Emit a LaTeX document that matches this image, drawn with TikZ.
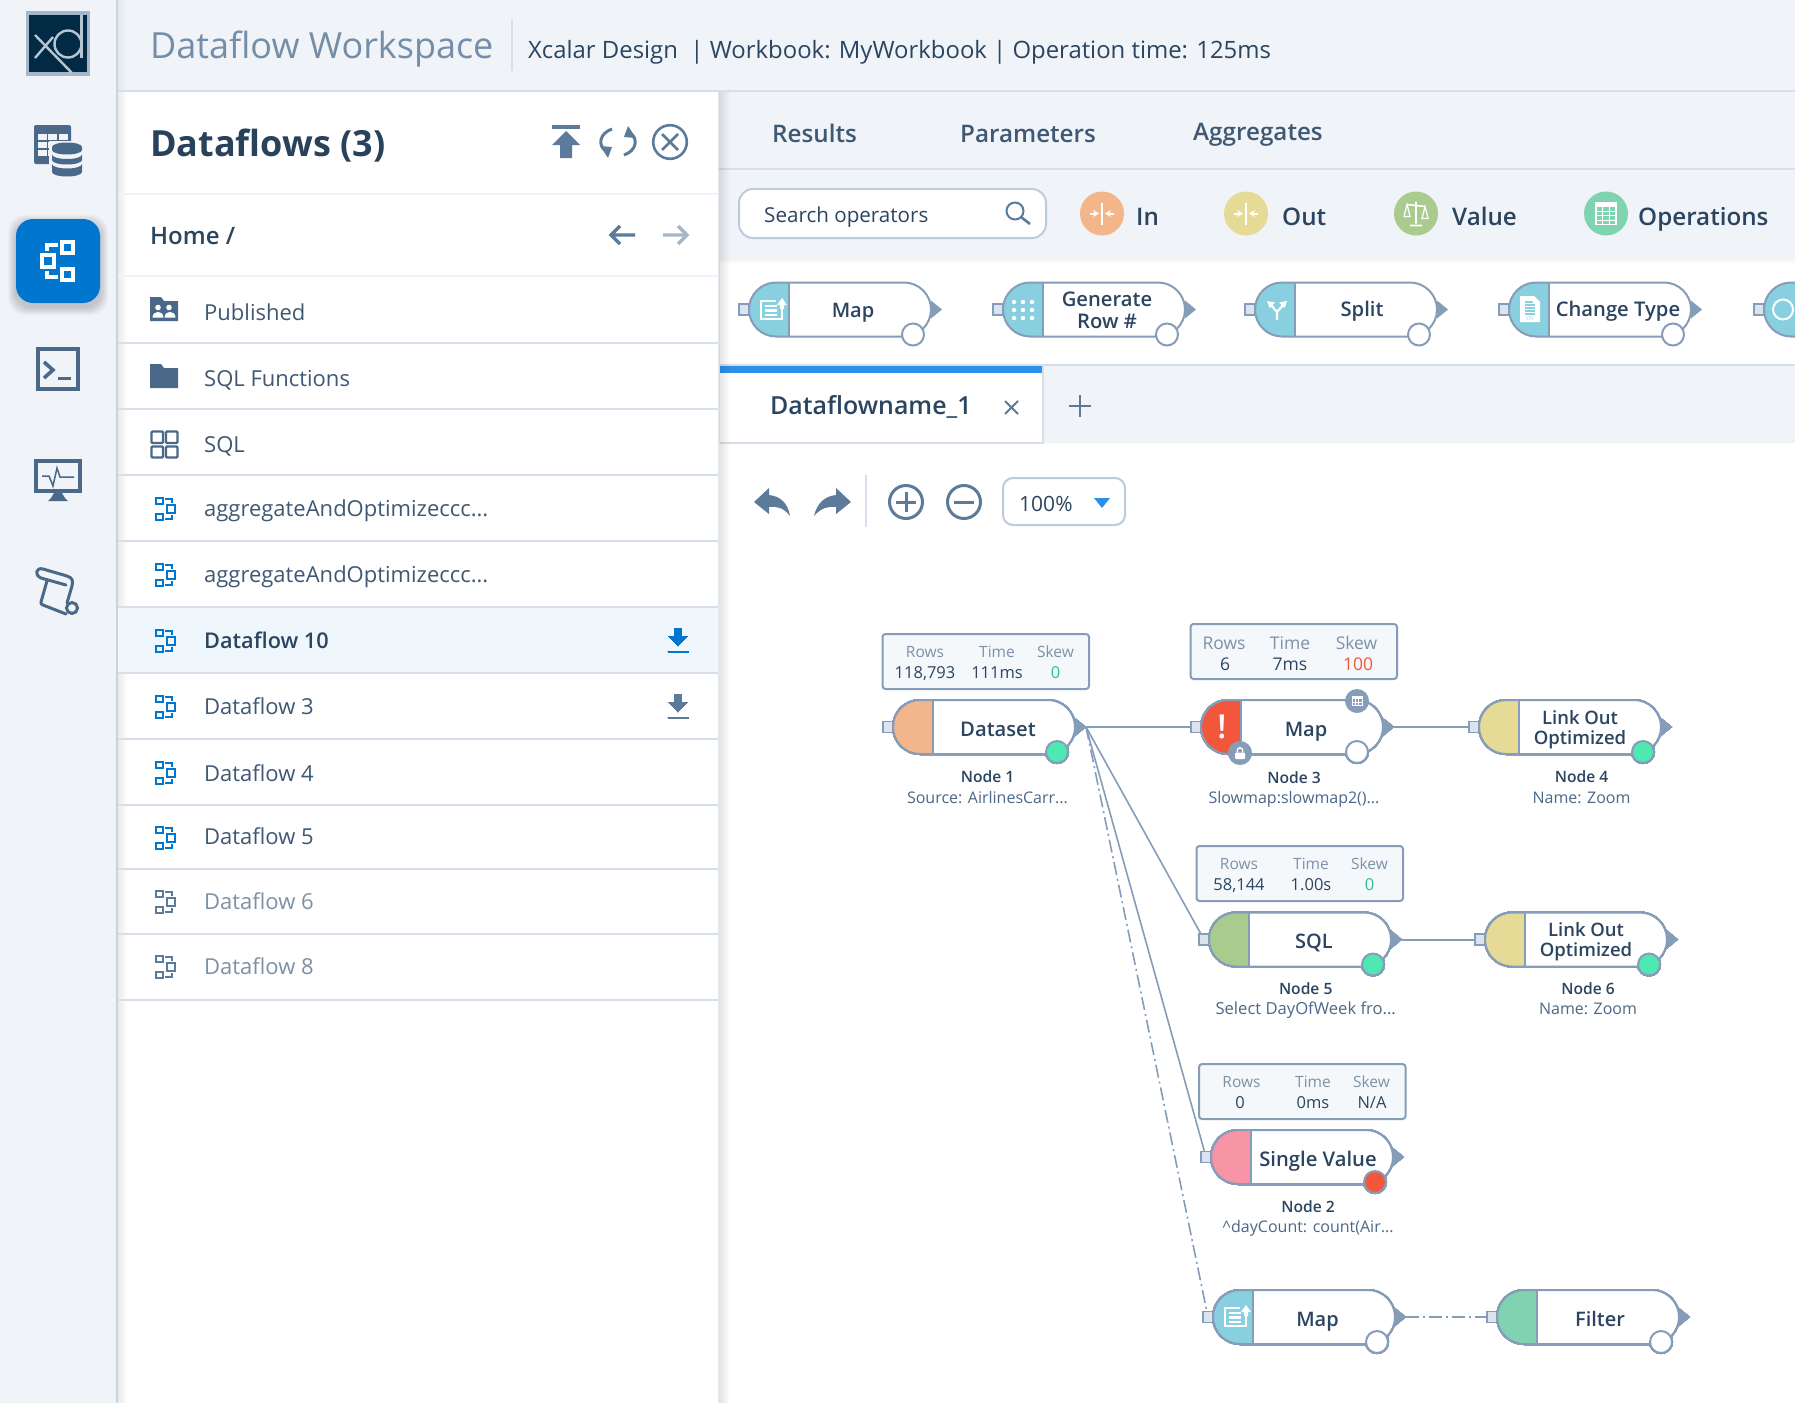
\documentclass[tikz,border=0pt]{standalone}
\usepackage{fontspec}
\setmainfont{Open Sans}
\newfontfamily\osm{Open Sans Semibold}
\newfontfamily\oss{Open Sans Semibold}
\usetikzlibrary{arrows.meta}
\definecolor{bgband}{HTML}{F0F3F8}
\definecolor{ink}{HTML}{2B4560}
\definecolor{inklight}{HTML}{3F5873}
\definecolor{inkmute}{HTML}{7D91A6}
\definecolor{iconc}{HTML}{4A6888}
\definecolor{iconb}{HTML}{5C7A99}
\definecolor{wire}{HTML}{859DB8}
\definecolor{sepc}{HTML}{D6DFEA}
\definecolor{railedge}{HTML}{C8D3E0}
\definecolor{brand}{HTML}{0076CE}
\definecolor{tabblue}{HTML}{2E8FEA}
\definecolor{capor}{HTML}{F3B58A}
\definecolor{capye}{HTML}{E6DB96}
\definecolor{capgr}{HTML}{A9CC8E}
\definecolor{cappk}{HTML}{F794A6}
\definecolor{capbl}{HTML}{88D0E0}
\definecolor{capte}{HTML}{80D3B0}
\definecolor{capre}{HTML}{F2563B}
\definecolor{dotgr}{HTML}{4EE9B1}
\definecolor{statbg}{HTML}{F5F8FB}
\definecolor{portc}{HTML}{DCE3EE}
\definecolor{skewg}{HTML}{2FC08E}
\definecolor{logod}{HTML}{022A45}
\definecolor{logol}{HTML}{B5C6D4}
\tikzset{
 txt/.style={font=\fontsize{#1}{#1}\selectfont,text height={0.72*#1pt},text depth=0pt,inner sep=0pt},
 mtxt/.style={font=\fontsize{#1}{#1}\osm,text height={0.72*#1pt},text depth=0pt,inner sep=0pt},
 stxt/.style={font=\fontsize{#1}{#1}\oss,text height={0.72*#1pt},text depth=0pt,inner sep=0pt},
 ctr/.style={font=\fontsize{#1}{#1}\osm,align=center,inner sep=0pt,text=ink},
 pillline/.style={draw=wire,line width=2pt},
 portbox/.style={draw=wire,fill=portc,line width=1.6pt,minimum width=10pt,minimum height=11pt,inner sep=0pt},
 outdot/.style={circle,draw=wire,line width=2pt,minimum size=22pt,inner sep=0pt},
 statbox/.style={draw=wire,fill=statbg,line width=2pt,rounded corners=3pt},
 wireline/.style={draw=wire,line width=2pt},
 flowdash/.style={draw=wire,line width=1.6pt,dash pattern=on 13pt off 4pt on 2pt off 4pt},
 sepline/.style={draw=sepc,line width=2pt},
}
\def\dotx{164}
\newcommand{\flownode}[5]{%
\begin{scope}[shift={(#2,#3)}]
 \fill[white,rounded corners=27pt] (0,0) rectangle (182,54);
 \fill[#4] (40,0) -- (27,0) arc[start angle=90,end angle=270,radius=27pt] -- (40,54) -- cycle;
 \draw[pillline,rounded corners=27pt] (0,0) rectangle (182,54);
 \draw[pillline] (40,0) -- (40,54);
 \node[portbox] (#1-in) at (-5,27) {};
 \fill[wire] (182,18) -- (193,27) -- (182,36) -- cycle;
 \coordinate (#1-out) at (193,27);
 \node[outdot,fill=#5] (#1-dot) at (\dotx,52) {};
\end{scope}}
\newcommand{\statpanel}[2]{\draw[statbox] (#1,#2) rectangle ++(206.5,55);}
\newcommand{\flowicon}[5]{% x y scale color lw
\begin{scope}[shift={(#1,#2)},scale=#3]
 \draw[#4,line width=#5] (-15,-6) rectangle (-3,6);
 \draw[#4,line width=#5] (5,-19) rectangle (16,-8);
 \draw[#4,line width=#5] (5,8) rectangle (16,19);
 \draw[#4,line width=#5] (-10,-10) -- (-10,-16) -- (1,-16);
 \draw[#4,line width=#5] (-10,10) -- (-10,16) -- (1,16);
\end{scope}}
\newcommand{\dloadicon}[3]{% x y color
\begin{scope}[shift={(#1,#2)}]
 \fill[#3] (-3.5,-13) -- (3.5,-13) -- (3.5,-5) -- (9.5,-5) -- (0,5) -- (-9.5,-5) -- (-3.5,-5) -- cycle;
 \draw[#3,line width=2.4pt] (-10.5,11) -- (10.5,11);
\end{scope}}
\newcommand{\mapicon}[2]{%
\begin{scope}[shift={(#1,#2)}]
 \draw[white,line width=2.4pt] (5,-9) -- (-10,-9) -- (-10,9) -- (11,9) -- (11,-2);
 \draw[white,line width=2.4pt] (-6,-4) -- (6,-4) (-6,0.5) -- (6,0.5) (-6,5) -- (6,5);
 \fill[white] (11,-12) -- (16,-5) -- (13,-5) -- (13,-1) -- (9,-1) -- (9,-5) -- (6,-5) -- cycle;
\end{scope}}
\newcommand{\inouticon}[2]{%
\begin{scope}[shift={(#1,#2)}]
 \draw[white,line width=2pt] (0,-11) -- (0,11);
 \draw[white,line width=2pt,-{Stealth[length=6pt,width=7pt]}] (-12,0) -- (-3,0);
 \draw[white,line width=2pt,-{Stealth[length=6pt,width=7pt]}] (12,0) -- (3,0);
\end{scope}}
\begin{document}
\begin{tikzpicture}[x=1pt,y=-1pt]
\useasboundingbox (0,0) rectangle (1795,1403);
\fill[bgband] (0,0) rectangle (1795,1403);
% canvas
\fill[white] (118,443) rectangle (1795,1403);
\fill[white] (720,258) rectangle (1795,365);
\foreach \i [evaluate=\i as \o using 0.05*(1-\i/6)] in {0,...,5}
  \fill[black,opacity=\o] (720,258+\i) rectangle (1795,259+\i);
% header
\foreach \i [evaluate=\i as \o using 0.07*(1-\i/8)] in {0,...,7}
  \fill[iconc,opacity=\o] (118+\i,0) rectangle (119+\i,92);
\draw[sepline] (118,90.5) -- (1699,90.5);
\draw[sepline] (1699,91) -- (1795,91);
\node[txt=36,anchor=west,text=iconb!85!white] (title) at (150,46) {Dataflow Workspace};
\draw[sepline,line width=2pt] (512,19) -- (512,71);
\node[txt=23.9,anchor=west,text=ink] (crumb) at (528,50) {Xcalar Design \ | Workbook: MyWorkbook | Operation time: 125ms};
% tabs row
\node[mtxt=24.2,anchor=west,text=inklight] (results) at (772,134) {Results};
\node[mtxt=24.2,anchor=west,text=inklight] (params) at (960,134) {Parameters};
\node[mtxt=24.2,anchor=west,text=inklight] (aggr) at (1193,132) {Aggregates};
\draw[sepline] (718,168.5) -- (1795,168.5);
% search and legend
\draw[fill=white,draw=sepc!80!iconb,line width=2pt,rounded corners=14pt] (739,189) rectangle (1046,238);
\node[txt=20.6,anchor=west,text=ink] (search) at (764,215.5) {Search operators};
\draw[iconb,line width=2pt] (1015,211) circle (8.5pt);
\draw[iconb,line width=2.6pt] (1021,217) -- (1030,224);
\fill[capor] (1102,213.5) circle (22pt); \inouticon{1102}{213.5}
\node[mtxt=24.2,anchor=west,text=ink] (lin) at (1136,216.5) {In};
\fill[capye] (1246,213.5) circle (22pt); \inouticon{1246}{213.5}
\node[mtxt=24.2,anchor=west,text=ink] (lout) at (1282,216.5) {Out};
\fill[capgr] (1416,213.5) circle (22pt);
\begin{scope}[shift={(1416,213.5)}]
 \draw[white,line width=1.6pt] (0,-12) -- (0,10) (-6,12) -- (6,12) (-9,-9) -- (9,-7);
 \draw[white,line width=1.2pt] (-9,-9) -- (-12,3) -- (-6,3) -- cycle (9,-7) -- (6,5) -- (12,5) -- cycle;
\end{scope}
\node[mtxt=24.2,anchor=west,text=ink] (lval) at (1452,216.5) {Value};
\fill[capte] (1606,213.5) circle (22pt);
\begin{scope}[shift={(1606,213.5)}]
 \draw[white,line width=1.4pt] (-10,-11) rectangle (10,11);
 \fill[white] (-10,-11) rectangle (10,-7);
 \draw[white,line width=.8pt] (-3.3,-7) -- (-3.3,11) (3.3,-7) -- (3.3,11) (-10,-2.5) -- (10,-2.5) (-10,2) -- (10,2) (-10,6.5) -- (10,6.5);
\end{scope}
\node[mtxt=24.2,anchor=west,text=ink] (lops) at (1638,216.5) {Operations};
% palette
\flownode{pmap}{749}{282.5}{capbl}{white}
\flownode{pgen}{1003}{282.5}{capbl}{white}
\flownode{psplit}{1255}{282.5}{capbl}{white}
\flownode{pchange}{1509}{282.5}{capbl}{white}
\mapicon{771}{310}
\foreach \a in {-9,0,9} \foreach \b in {-8,0,8} \fill[white] (1023+\a,310+\b) circle (2.2pt);
\begin{scope}[shift={(1277,311)}]
 \draw[white,line width=2.2pt] (0,9) -- (0,1) -- (-6,-6) (0,1) -- (6,-6);
 \fill[white] (-10,-10) -- (-2,-8.5) -- (-7.5,-3) -- cycle (10,-10) -- (2,-8.5) -- (7.5,-3) -- cycle;
\end{scope}
\begin{scope}[shift={(1530,309)}]
 \fill[white] (-10,-13) -- (4,-13) -- (10,-7) -- (10,13) -- (-10,13) -- cycle;
 \draw[capbl,line width=1.2pt] (-5,-7) -- (3,-7) (-5,-4) -- (5,-4) (-5,-1) -- (5,-1) (-5,2) -- (5,2) (-5,5) -- (5,5);
 \node[font=\fontsize{5}{5}\selectfont,text=capbl,inner sep=0pt] (txtlabel) at (0,10) {TXT};
\end{scope}
\node[mtxt=20,text=ink] (pmapt) at (853,310) {Map};
\node[ctr=22,font=\fontsize{20.2}{22}\osm] (pgent) at (1107,310) {Generate\\Row \#};
\node[mtxt=20.2,text=ink] (psplitt) at (1362,309) {Split};
\node[mtxt=20.2,text=ink] (pchanget) at (1618,309) {Change Type};
% cut off tool at right edge
\begin{scope}
 \clip (1700,270) rectangle (1795,345);
 \fill[capbl] (1800,282.5) -- (1791,282.5) arc[start angle=90,end angle=270,radius=27pt] -- (1800,336.5) -- cycle;
 \draw[pillline] (1800,282.5) -- (1791,282.5) arc[start angle=90,end angle=270,radius=27pt] -- (1800,336.5);
 \node[portbox] (plast-in) at (1759,309.5) {};
 \draw[white,line width=2pt] (1783,309.5) circle (10pt);
\end{scope}
% tab strip
\draw[sepline] (720,365) -- (1795,365);
\fill[white] (720,366) rectangle (1043,443);
\fill[tabblue] (720,366) rectangle (1043,373);
\draw[sepline] (1043,366) -- (1043,443) -- (720,443);
\node[stxt=24.9,anchor=west,text=ink] (tabname) at (770,406) {Dataflowname\_1};
\draw[iconb,line width=2pt] (1005,401) -- (1018,414) (1018,401) -- (1005,414);
\draw[iconb,line width=2.8pt] (1080,395) -- (1080,417) (1069,406) -- (1091,406);
% canvas tools
\fill[iconb] (754,502) -- (769,488) -- (769,495) .. controls (780,496) and (788,503) .. (790,516) .. controls (784,508) and (777,506) .. (769,507) -- (769,514) -- cycle;
\fill[iconb] (851,502) -- (836,488) -- (836,495) .. controls (825,496) and (817,503) .. (814,516) .. controls (821,508) and (828,506) .. (836,507) -- (836,514) -- cycle;
\draw[sepc,line width=2pt] (866,475) -- (866,527);
\draw[iconb,line width=3pt] (906,502) circle (16.5pt);
\draw[iconb,line width=3pt] (896,502) -- (916,502) (906,492) -- (906,512);
\draw[iconb,line width=3pt] (964,502) circle (16.5pt);
\draw[iconb,line width=3pt] (954,502) -- (974,502);
\draw[fill=white,draw=sepc!80!iconb,line width=2pt,rounded corners=10pt] (1003,478) rectangle (1125,525);
\node[txt=21,anchor=west,text=ink] (zoomv) at (1019,504) {100\%};
\fill[tabblue] (1094,498) -- (1110,498) -- (1102,508) -- cycle;
% left rail
\fill[railedge] (116,0) rectangle (118,1403);
\fill[white] (118,92) rectangle (718,1403);
\foreach \i [evaluate=\i as \o using 0.08*(1-\i/9)] in {0,...,8}
  \fill[black,opacity=\o] (118+\i,92) rectangle (119+\i,1403);
\foreach \i [evaluate=\i as \o using 0.12*(1-\i/12)] in {0,...,11}
  \fill[black,opacity=\o] (718+\i,92) rectangle (719+\i,1403);
\draw[sepc!70!white,line width=1pt] (718,92) -- (718,1403);
% logo
\fill[sepc!60!iconb] (26,11) rectangle (90,76);
\fill[logod] (29,15) rectangle (87,72);
\begin{scope}
 \clip (29,15) rectangle (87,72);
 \draw[logol,line width=2.4pt] (35,35) -- (72,73) (35,58) -- (53,37);
 \draw[logol,line width=2.4pt] (68,44) circle (13.5pt);
 \draw[logol,line width=2.4pt] (81.5,15) -- (81.5,58);
\end{scope}
% rail icons
\fill[iconc,rounded corners=2pt] (34,125) rectangle (71,164);
\foreach \a in {38,48,59} \foreach \b in {134,142,150} \fill[bgband] (\a,\b) rectangle ++(8.5,6);
\fill[bgband] (49,141) rectangle (85,180);
\fill[iconc] (52,147) arc[start angle=180,end angle=0,x radius=15pt,y radius=4.5pt] -- (82,150) arc[start angle=0,end angle=-180,x radius=15pt,y radius=4.5pt] -- cycle;
\fill[iconc] (52,154.5) arc[start angle=180,end angle=360,x radius=15pt,y radius=4.5pt] -- (82,160) arc[start angle=0,end angle=-180,x radius=15pt,y radius=4.5pt] -- cycle;
\fill[iconc] (52,164) arc[start angle=180,end angle=360,x radius=15pt,y radius=4.5pt] -- (82,172) arc[start angle=0,end angle=-180,x radius=15pt,y radius=4.5pt] -- cycle;
\foreach \i in {1,...,8}
  \fill[black,opacity=0.022,rounded corners=17pt] (16-\i,223-\i) rectangle (100+\i,307+\i);
\fill[brand,rounded corners=17pt] (16,219) rectangle (100,303);
\flowicon{57}{261}{1}{white}{3.6pt}
\draw[iconc,line width=3.6pt] (37.8,348.8) rectangle (78.2,389.2);
\draw[iconc,line width=3.6pt] (44,362) -- (53,370) -- (44,378);
\draw[iconc,line width=3.4pt] (58,378.5) -- (71,378.5);
\draw[iconc,line width=4pt] (36,461) rectangle (80,491);
\draw[iconc,line width=1.5pt] (42,476) -- (49,476) -- (53,486) -- (57,468) -- (60,477) -- (74,477);
\fill[iconc] (54,493) -- (62,493) -- (65,498) -- (68,501) -- (48,501) -- (51,498) -- cycle;
\draw[iconc,line width=3pt,line join=round,line cap=round] (47,581) -- (41,602) .. controls (41,604) .. (43,605) -- (66,614);
\draw[iconc,line width=3pt,line join=round,line cap=round] (66,585) -- (41,578) .. controls (34,575) and (36,567) .. (43,569) -- (67,576) .. controls (73,578) and (73,581) .. (72,586) -- (67,603);
\draw[iconc,line width=3pt] (72,608) circle (5.5pt);
% panel head
\node[txt=36,font=\fontsize{36}{36}\bfseries,anchor=west,text=ink!95!black] (panelt) at (150,144) {Dataflows (3)};
\draw[iconb,line width=3.4pt] (552,127) -- (580,127);
\fill[iconb] (566,131) -- (580,145) -- (572,145) -- (572,158) -- (560,158) -- (560,145) -- (552,145) -- cycle;
\draw[iconb,line width=3pt] (612,129) .. controls (600,133) and (597,145) .. (606,151);
\fill[iconb] (600,146) -- (612,147) -- (608,158) -- cycle;
\draw[iconb,line width=3pt] (624,155) .. controls (636,151) and (639,139) .. (630,133);
\fill[iconb] (636,138) -- (624,137) -- (628,126) -- cycle;
\draw[iconb,line width=2.6pt] (670,142) circle (16.8pt);
\draw[iconb,line width=2.6pt] (662,134) -- (678,150) (678,134) -- (662,150);
\draw[bgband,line width=2pt] (118,194) -- (718,194) (118,276) -- (718,276);
\node[stxt=24,anchor=west,text=ink] (home) at (150,236) {Home /};
\draw[iconb,line width=3.4pt] (611,235) -- (635,235) (620,226) -- (611,235) -- (620,244);
\draw[iconb!55!white,line width=3.4pt] (663,235) -- (687,235) (678,226) -- (687,235) -- (678,244);
% rows
\fill[brand!6!white] (118,608) rectangle (718,673);
\foreach \y in {343,409,475,541,607,673,739,805,869,933.5,999.5}
  \draw[sepline] (118,\y) -- (718,\y);
\node[txt=22,anchor=west,text=inklight] (r1) at (204,313) {Published};
\node[txt=22,anchor=west,text=inklight] (r2) at (204,379) {SQL Functions};
\node[txt=22,anchor=west,text=inklight] (r3) at (204,445) {SQL};
\node[txt=22,anchor=west,text=inklight] (r4) at (204,509) {aggregateAndOptimizeccc...};
\node[txt=22,anchor=west,text=inklight] (r5) at (204,575) {aggregateAndOptimizeccc...};
\node[stxt=21.7,anchor=west,text=ink] (r6) at (204,640.5) {Dataflow 10};
\node[txt=22,anchor=west,text=inklight] (r7) at (204,707) {Dataflow 3};
\node[txt=22,anchor=west,text=inklight] (r8) at (204,773.5) {Dataflow 4};
\node[txt=22,anchor=west,text=inklight] (r9) at (204,837) {Dataflow 5};
\node[txt=22,anchor=west,text=inkmute] (r10) at (204,902) {Dataflow 6};
\node[txt=22,anchor=west,text=inkmute] (r11) at (204,967) {Dataflow 8};
% row icons
\fill[iconc] (150,297) -- (150,321) -- (178,321) -- (178,301) -- (164,301) -- (161,297) -- cycle;
\fill[white] (158,307.5) circle (2.8pt) (169,307.5) circle (2.8pt);
\fill[white] (152.5,317.5) .. controls (153,310) and (163,310) .. (163.5,317.5) -- cycle;
\fill[white] (164.5,317.5) .. controls (165,310) and (175,310) .. (175.5,317.5) -- cycle;
\fill[iconc] (150,364) -- (150,388) -- (178,388) -- (178,368) -- (164,368) -- (161,364) -- cycle;
\draw[iconc,line width=2.4pt,rounded corners=1pt] (151.5,431.5) rectangle (163,443) (166,431.5) rectangle (177.5,443) (151.5,446.5) rectangle (163,457.5) (166,446.5) rectangle (177.5,457.5);
\foreach \y in {509,575,641} \flowicon{165.5}{\y}{-0.6}{brand}{2pt}
\foreach \y in {707,773,838} \flowicon{165.5}{\y}{-0.6}{brand}{2pt}
\foreach \y in {902,967} \flowicon{165.5}{\y}{-0.6}{iconb}{2pt}
\dloadicon{678}{641}{brand}
\dloadicon{678}{707}{iconb}
% graph nodes
\flownode{dataset}{893}{700}{capor}{dotgr}
\def\dotx{156}
\flownode{map3}{1201}{700}{capre}{white}
\def\dotx{164}
\flownode{link4}{1479}{700}{capye}{dotgr}
\flownode{sql5}{1209}{912.5}{capgr}{dotgr}
\flownode{link6}{1485}{912.5}{capye}{dotgr}
\flownode{single2}{1211}{1130}{cappk}{capre}
\flownode{map7}{1213}{1290}{capbl}{white}
\flownode{filter8}{1497}{1290}{capte}{white}
% connectors
\draw[wireline] (dataset-out) -- (map3-in);
\draw[wireline] (map3-out) -- (link4-in);
\draw[wireline] (sql5-out) -- (link6-in);
\draw[wireline,line width=1.6pt] (dataset-out) -- (sql5-in);
\draw[wireline,line width=1.6pt] (dataset-out) -- (single2-in);
\draw[flowdash] (dataset-out) -- (map7-in);
\draw[flowdash] (map7-out) -- (filter8-in);
% node labels
\node[mtxt=20.2,text=ink] (l1) at (998,729) {Dataset};
\node[mtxt=20,text=ink] (l3) at (1306,729) {Map};
\node[ctr=20,font=\fontsize{18.5}{20}\osm] (l4) at (1580,730) {Link Out\\Optimized};
\node[mtxt=20,text=ink] (l5) at (1314,941) {SQL};
\node[ctr=20,font=\fontsize{18.5}{20}\osm] (l6) at (1586,942) {Link Out\\Optimized};
\node[mtxt=20.2,text=ink] (l2) at (1318,1159) {Single Value};
\node[mtxt=20,text=ink] (l7) at (1317.5,1319) {Map};
\node[mtxt=20,text=ink] (l8) at (1600,1319) {Filter};
\mapicon{1235}{1317}
% badges on node 3
\node[circle,fill=wire,minimum size=24pt,inner sep=0pt] (trashb) at (1357,701) {};
\draw[white,line width=.8pt] (1352,696.5) rectangle (1362,705.5);
\fill[white] (1352,696.5) rectangle (1362,699);
\draw[white,line width=.6pt] (1355.3,699) -- (1355.3,705.5) (1358.7,699) -- (1358.7,705.5) (1352,702.2) -- (1362,702.2);
\node[circle,fill=wire,minimum size=24pt,inner sep=0pt] (lockb) at (1240,753) {};
\fill[white,rounded corners=1pt] (1235,752.5) rectangle (1245,759);
\draw[white,line width=1.4pt] (1237.3,752.5) -- (1237.3,750.5) arc[start angle=180,end angle=0,radius=2.7pt] -- (1242.7,752.5);
\node[font=\fontsize{33}{33}\osm,text=white,inner sep=0pt] (bang) at (1222,727) {!};
% captions
\node[mtxt=15.6,text=ink] (c1) at (987.5,776.5) {Node 1};
\node[txt=16,text=iconc] (s1) at (987.5,797.5) {Source: AirlinesCarr...};
\node[mtxt=15.6,text=ink] (c3) at (1294,778) {Node 3};
\node[txt=16,text=iconc] (s3) at (1294,797.5) {Slowmap:slowmap2()...};
\node[mtxt=15.6,text=ink] (c4) at (1581.5,776.5) {Node 4};
\node[txt=16,text=iconc] (s4) at (1581.5,797.5) {Name: Zoom};
\node[mtxt=15.6,text=ink] (c5) at (1305.7,989) {Node 5};
\node[txt=16.6,text=iconc] (s5) at (1305.7,1009) {Select DayOfWeek fro...};
\node[mtxt=15.6,text=ink] (c6) at (1588,989) {Node 6};
\node[txt=16,text=iconc] (s6) at (1588,1009) {Name: Zoom};
\node[mtxt=15.6,text=ink] (c2) at (1308,1207) {Node 2};
\node[txt=16,text=iconc] (s2) at (1308,1227) {\textasciicircum dayCount: count(Air...};
% stats
\statpanel{882.5}{634}
\node[txt=15.5,text=inkmute] (b1a) at (925,652) {Rows};
\node[txt=15.5,text=inkmute] (b1b) at (997,652) {Time};
\node[txt=15.5,text=inkmute] (b1c) at (1055.5,652) {Skew};
\node[txt=16.5,text=ink] (b1d) at (925,673) {118,793};
\node[txt=16.5,text=ink] (b1e) at (997,673) {111ms};
\node[txt=16.5,text=skewg] (b1f) at (1055.5,673) {0};
\statpanel{1190.5}{624}
\node[txt=17.5,text=inkmute] (b3a) at (1224,643) {Rows};
\node[txt=17.5,text=inkmute] (b3b) at (1290,643) {Time};
\node[txt=17.5,text=inkmute] (b3c) at (1356.5,643) {Skew};
\node[txt=17.5,text=ink] (b3d) at (1225,664) {6};
\node[txt=17.5,text=ink] (b3e) at (1290,664) {7ms};
\node[txt=17.5,text=capre] (b3f) at (1358,664) {100};
\statpanel{1196.5}{846}
\node[txt=15.5,text=inkmute] (b5a) at (1239,864) {Rows};
\node[txt=15.5,text=inkmute] (b5b) at (1311,864) {Time};
\node[txt=15.5,text=inkmute] (b5c) at (1369.5,864) {Skew};
\node[txt=16.5,text=ink] (b5d) at (1239,885) {58,144};
\node[txt=16.5,text=ink] (b5e) at (1311,885) {1.00s};
\node[txt=16.5,text=skewg] (b5f) at (1369.5,885) {0};
\statpanel{1199}{1064}
\node[txt=15.5,text=inkmute] (b2a) at (1241.5,1082) {Rows};
\node[txt=15.5,text=inkmute] (b2b) at (1313,1082) {Time};
\node[txt=15.5,text=inkmute] (b2c) at (1371.5,1082) {Skew};
\node[txt=16.5,text=ink] (b2d) at (1240,1103) {0};
\node[txt=16.5,text=ink] (b2e) at (1313,1103) {0ms};
\node[txt=16.5,text=ink] (b2f) at (1372,1103) {N/A};
\end{tikzpicture}
\end{document}
